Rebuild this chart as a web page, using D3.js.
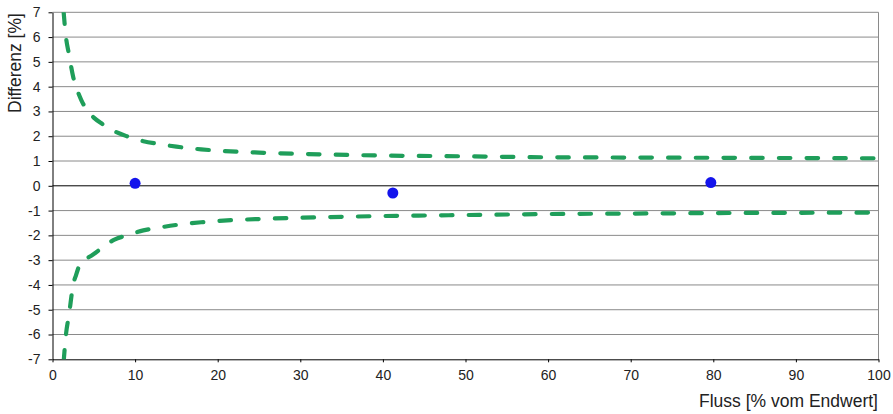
<!DOCTYPE html>
<head>
  <meta charset="utf-8">
  <style>
    body { margin: 0; background: #fff; }
    svg text { font-family: "Liberation Sans", Arial, sans-serif; fill: #222; }
  </style>
</head>
<body>
<svg id="chart" width="893" height="414"></svg>
<script src="https://d3js.org/d3.v7.min.js"></script>
<script>
// values
var limitX  = [1.35, 1.63, 2.0, 2.5, 2.85, 3.5, 4.3, 5, 6, 7.5, 9, 11, 13, 15, 18, 20, 25, 30, 40, 50, 60, 70, 80, 90, 100];
var upperY  = [7.0, 6.0, 5.3, 4.4, 4.0, 3.45, 3.0, 2.75, 2.5, 2.2, 2.0, 1.8, 1.68, 1.58, 1.47, 1.42, 1.34, 1.29, 1.22, 1.19, 1.15, 1.14, 1.13, 1.12, 1.11];
var lowerY  = [-7.1, -6.0, -5.2, -4.0, -3.6, -3.05, -2.9, -2.75, -2.5, -2.17, -2.0, -1.8, -1.68, -1.58, -1.47, -1.42, -1.34, -1.29, -1.22, -1.18, -1.14, -1.12, -1.1, -1.09, -1.08];
var pointX  = [10, 41.2, 79.7];
var pointY  = [0.1, -0.29, 0.13];
var xTicks  = [0, 10, 20, 30, 40, 50, 60, 70, 80, 90, 100];
var yTicks  = [-7, -6, -5, -4, -3, -2, -1, 0, 1, 2, 3, 4, 5, 6, 7];

var svg = d3.select("svg");
var m = {left: 52.5, top: 12.3, right: 14.5, bottom: 54.7};
var W = 893 - m.left - m.right, H = 414 - m.top - m.bottom;

var x = d3.scaleLinear().domain([0, 100]).range([m.left, m.left + W]);
var y = d3.scaleLinear().domain([-7, 7]).range([m.top + H, m.top]);

// grid
svg.append("g").selectAll("line")
  .data(yTicks.filter(function(d) { return d !== 0 && d !== -7; }))
  .enter().append("line")
    .attr("x1", m.left).attr("x2", m.left + W)
    .attr("y1", function(d) { return y(d); }).attr("y2", function(d) { return y(d); })
    .attr("stroke", "#8a8a8a").attr("stroke-width", 1);

svg.append("line")
  .attr("x1", m.left + W).attr("x2", m.left + W)
  .attr("y1", m.top).attr("y2", m.top + H)
  .attr("stroke", "#8a8a8a");

// zero line
svg.append("line")
  .attr("x1", m.left).attr("x2", m.left + W)
  .attr("y1", y(0)).attr("y2", y(0))
  .attr("stroke", "#000");

// axes (plain hyphen for negatives, like the original)
var fmt = function(d) { return String(d); };
var xAxis = svg.append("g")
  .attr("transform", "translate(0," + (m.top + H) + ")")
  .call(d3.axisBottom(x).tickValues(xTicks).tickFormat(fmt).tickSize(3).tickPadding(8).tickSizeOuter(0));
var yAxis = svg.append("g")
  .attr("transform", "translate(" + m.left + ",0)")
  .call(d3.axisLeft(y).tickValues(yTicks).tickFormat(fmt).tickSize(4).tickPadding(8).tickSizeOuter(0));
[xAxis, yAxis].forEach(function(a) {
  a.attr("font-size", null).attr("font-family", null);
  a.select(".domain").attr("stroke", "#000");
  a.selectAll(".tick line").attr("stroke", "#000");
  a.selectAll("text").style("font-size", "14px").style("fill", "#222");
});

// tolerance curves
svg.append("clipPath").attr("id", "plot")
  .append("rect").attr("x", m.left).attr("y", m.top).attr("width", W).attr("height", H);

var line = d3.line()
  .x(function(d) { return x(d[0]); })
  .y(function(d) { return y(d[1]); })
  .curve(d3.curveMonotoneX);

[upperY, lowerY].forEach(function(ys) {
  svg.append("path")
    .datum(limitX.map(function(v, i) { return [v, ys[i]]; }))
    .attr("clip-path", "url(#plot)")
    .attr("d", line)
    .attr("fill", "none")
    .attr("stroke", "#1f9e5a")
    .attr("stroke-width", 4.2)
    .attr("stroke-linecap", "round")
    .attr("stroke-dasharray", "11.5 16.2");
});

// measured points
svg.append("g").selectAll("circle")
  .data(pointX)
  .enter().append("circle")
    .attr("cx", function(d) { return x(d); })
    .attr("cy", function(d, i) { return y(pointY[i]); })
    .attr("r", 5.5)
    .attr("fill", "#1414ec");

// titles
svg.append("text")
  .attr("transform", "translate(21,113) rotate(-90)")
  .style("font-size", "17.5px")
  .text("Differenz [%]");

svg.append("text")
  .attr("x", 878).attr("y", 407)
  .attr("text-anchor", "end")
  .style("font-size", "17.5px")
  .text("Fluss [% vom Endwert]");
</script>
</body>
